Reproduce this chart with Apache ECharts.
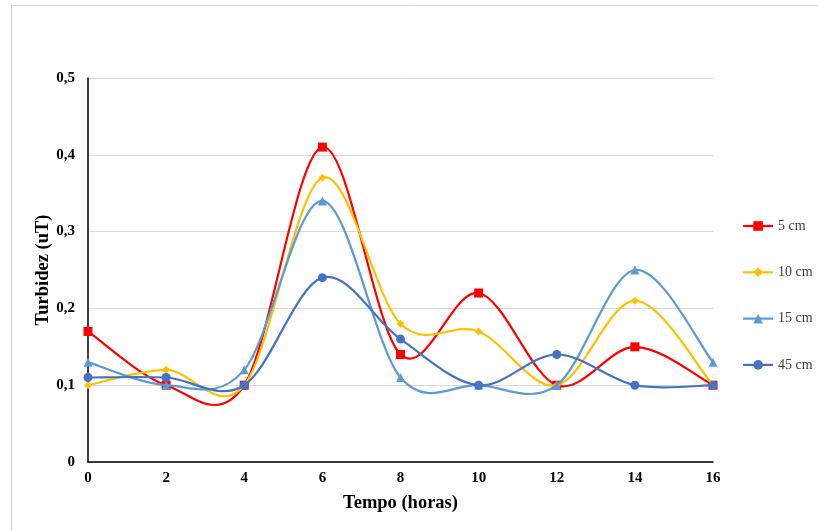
<!DOCTYPE html>
<html>
<head>
<meta charset="utf-8">
<script src="https://cdn.jsdelivr.net/npm/echarts@6/dist/echarts.min.js"></script>
<style>html,body{margin:0;padding:0;background:#fff;}#c{width:818px;height:531px;}</style>
</head>
<body>
<div id="c"></div>
<script>
var hours = [0, 2, 4, 6, 8, 10, 12, 14, 16];
var cm5  = [0.17, 0.10, 0.10, 0.41, 0.14, 0.22, 0.10, 0.15, 0.10];
var cm10 = [0.10, 0.12, 0.10, 0.37, 0.18, 0.17, 0.10, 0.21, 0.10];
var cm15 = [0.13, 0.10, 0.12, 0.34, 0.11, 0.10, 0.10, 0.25, 0.13];
var cm45 = [0.11, 0.11, 0.10, 0.24, 0.16, 0.10, 0.14, 0.10, 0.10];
var seriesNames = ['5 cm', '10 cm', '15 cm', '45 cm'];
var colors = ['#FF0000', '#FFC000', '#5B9BD5', '#4472C4'];
var symbols = ['rect', 'diamond', 'triangle', 'circle'];
var symbolSizes = [9, 8, 9, 9];
var allValues = [cm5, cm10, cm15, cm45];

function pairs(vals){ return hours.map(function(h,i){ return [h, vals[i]]; }); }

var font = '"Liberation Serif", "Times New Roman", serif';
var chart = echarts.init(document.getElementById('c'));

// Catmull-Rom style smoothing (like spreadsheet smoothed lines), computed in pixel space via api.coord
function curveRenderer(vals, color){
  return function(params, api){
    var i = params.dataIndex;
    var n = hours.length;
    if (i >= n - 1) return null;
    function P(k){ k = Math.max(0, Math.min(n - 1, k)); return api.coord([hours[k], vals[k]]); }
    var p0 = P(i - 1), p1 = P(i), p2 = P(i + 1), p3 = P(i + 2);
    var c1 = [p1[0] + (p2[0] - p0[0]) / 6, p1[1] + (p2[1] - p0[1]) / 6];
    var c2 = [p2[0] - (p3[0] - p1[0]) / 6, p2[1] - (p3[1] - p1[1]) / 6];
    return {
      type: 'bezierCurve',
      shape: {x1: p1[0], y1: p1[1], cpx1: c1[0], cpy1: c1[1], cpx2: c2[0], cpy2: c2[1], x2: p2[0], y2: p2[1]},
      style: {stroke: color, lineWidth: 2.2, fill: null},
      silent: true
    };
  };
}

var series = [];
allValues.forEach(function(vals, k){
  series.push({
    name: seriesNames[k], type: 'line', data: pairs(vals), z: 3 + k * 2,
    symbol: symbols[k], symbolSize: symbolSizes[k], showSymbol: true,
    lineStyle: {color: colors[k], width: 2.2, opacity: 0},
    itemStyle: {color: colors[k]},
    emphasis: {disabled: true}
  });
});
allValues.forEach(function(vals, k){
  series.push({
    name: seriesNames[k], type: 'custom', data: pairs(vals), z: 2 + k * 2,
    renderItem: curveRenderer(vals, colors[k]),
    encode: {x: 0, y: 1}, clip: false
  });
});

chart.setOption({
  animation: false,
  backgroundColor: '#fff',
  graphic: [{
    type: 'rect', z: -1,
    shape: {x: 11.5, y: 5.5, width: 900, height: 600},
    style: {fill: 'none', stroke: '#d9d9d9', lineWidth: 1}
  }],
  grid: {left: 88, right: 105, top: 78, bottom: 69},
  legend: {
    orient: 'vertical', left: 737, top: 214, itemGap: 32.3,
    itemWidth: 30, itemHeight: 12,
    lineStyle: {opacity: 1, width: 2.2},
    data: seriesNames,
    textStyle: {fontFamily: font, fontSize: 14, color: '#404040'}
  },
  xAxis: {
    type: 'value', min: 0, max: 16, interval: 2,
    name: 'Tempo (horas)', nameLocation: 'middle', nameGap: 32, nameMoveOverlap: false,
    nameTextStyle: {fontFamily: font, fontSize: 18.5, fontWeight: 'bold', color: '#000'},
    axisLine: {show: true, lineStyle: {color: '#000', width: 1.5}},
    axisTick: {show: false},
    splitLine: {show: false},
    axisLabel: {fontFamily: font, fontSize: 15, fontWeight: 'bold', color: '#000', margin: 9}
  },
  yAxis: {
    type: 'value', min: 0, max: 0.5, interval: 0.1,
    name: 'Turbidez (uT)', nameLocation: 'middle', nameGap: 35, nameMoveOverlap: false,
    nameTextStyle: {fontFamily: font, fontSize: 18.5, fontWeight: 'bold', color: '#000'},
    axisLine: {show: true, lineStyle: {color: '#000', width: 1.5}},
    axisTick: {show: false},
    splitLine: {show: true, lineStyle: {color: '#d9d9d9', width: 1}},
    axisLabel: {
      fontFamily: font, fontSize: 15, fontWeight: 'bold', color: '#000', margin: 13,
      formatter: function(v){ return v === 0 ? '0' : v.toFixed(1).replace('.', ','); }
    }
  },
  series: series
});
</script>
</body>
</html>
